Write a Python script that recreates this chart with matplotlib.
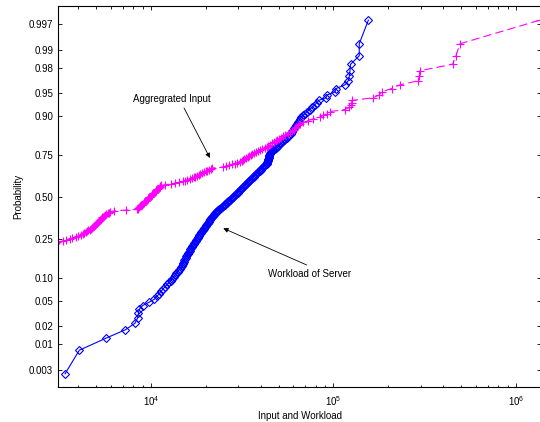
import numpy as np
import matplotlib
matplotlib.use('Agg')
import matplotlib.pyplot as plt
from matplotlib.ticker import LogLocator, NullFormatter
from statistics import NormalDist

# sorted samples (log10 of value)
server_log10 = [3.529, 3.607, 3.753, 3.859, 3.912, 3.927, 3.931, 3.936, 3.954, 3.990,
                4.019, 4.033, 4.045, 4.056, 4.067, 4.077, 4.089, 4.100, 4.109, 4.117,
                4.125, 4.132, 4.139, 4.146, 4.152, 4.159, 4.167, 4.170, 4.174, 4.177,
                4.180, 4.183, 4.187, 4.190, 4.193, 4.197, 4.201, 4.205, 4.208, 4.212,
                4.216, 4.219, 4.223, 4.227, 4.230, 4.234, 4.237, 4.241, 4.244, 4.247,
                4.251, 4.255, 4.258, 4.262, 4.265, 4.269, 4.273, 4.276, 4.280, 4.283,
                4.286, 4.290, 4.293, 4.296, 4.300, 4.303, 4.306, 4.310, 4.313, 4.316,
                4.319, 4.322, 4.326, 4.329, 4.332, 4.335, 4.339, 4.343, 4.347, 4.351,
                4.354, 4.358, 4.362, 4.366, 4.371, 4.377, 4.382, 4.387, 4.392, 4.398,
                4.403, 4.408, 4.414, 4.419, 4.424, 4.430, 4.434, 4.439, 4.443, 4.448,
                4.452, 4.456, 4.460, 4.465, 4.469, 4.474, 4.478, 4.482, 4.487, 4.491,
                4.495, 4.500, 4.504, 4.509, 4.513, 4.517, 4.522, 4.526, 4.530, 4.535,
                4.539, 4.543, 4.548, 4.552, 4.557, 4.563, 4.567, 4.572, 4.577, 4.582,
                4.586, 4.591, 4.595, 4.600, 4.604, 4.609, 4.614, 4.619, 4.623, 4.628,
                4.633, 4.635, 4.637, 4.639, 4.640, 4.642, 4.644, 4.645, 4.647, 4.649,
                4.651, 4.653, 4.659, 4.665, 4.671, 4.678, 4.684, 4.690, 4.696, 4.703,
                4.709, 4.716, 4.722, 4.729, 4.736, 4.743, 4.750, 4.757, 4.765, 4.770,
                4.775, 4.780, 4.785, 4.790, 4.795, 4.800, 4.806, 4.811, 4.817, 4.823,
                4.833, 4.845, 4.856, 4.869, 4.882, 4.896, 4.908, 4.920, 4.959, 4.966,
                5.008, 5.014, 5.063, 5.081, 5.087, 5.090, 5.094, 5.141, 5.141, 5.191]

input_log10 = [2.62, 2.81, 2.93, 3.01, 3.07, 3.11, 3.14, 3.17, 3.19, 3.21,
               3.23, 3.24, 3.26, 3.27, 3.28, 3.29, 3.30, 3.31, 3.32, 3.33,
               3.34, 3.35, 3.355, 3.36, 3.37, 3.375, 3.38, 3.385, 3.39, 3.395,
               3.40, 3.405, 3.41, 3.415, 3.42, 3.425, 3.43, 3.435, 3.44, 3.445,
               3.45, 3.455, 3.46, 3.465, 3.47, 3.475, 3.48, 3.485, 3.518, 3.536,
               3.554, 3.569, 3.587, 3.602, 3.618, 3.627, 3.635, 3.642, 3.650, 3.657,
               3.665, 3.672, 3.678, 3.683, 3.687, 3.692, 3.697, 3.702, 3.706, 3.711,
               3.716, 3.720, 3.725, 3.730, 3.734, 3.739, 3.743, 3.748, 3.755, 3.763,
               3.770, 3.778, 3.795, 3.861, 3.922, 3.927, 3.931, 3.936, 3.941, 3.946,
               3.951, 3.955, 3.960, 3.964, 3.969, 3.973, 3.977, 3.982, 3.986, 3.991,
               3.995, 3.999, 4.004, 4.008, 4.012, 4.017, 4.021, 4.025, 4.029, 4.034,
               4.038, 4.043, 4.047, 4.052, 4.056, 4.076, 4.110, 4.132, 4.154, 4.173,
               4.186, 4.199, 4.213, 4.225, 4.234, 4.243, 4.252, 4.261, 4.271, 4.280,
               4.289, 4.299, 4.308, 4.317, 4.327, 4.336, 4.395, 4.412, 4.427, 4.442,
               4.458, 4.473, 4.488, 4.496, 4.504, 4.512, 4.521, 4.529, 4.538, 4.546,
               4.554, 4.564, 4.575, 4.587, 4.598, 4.610, 4.622, 4.634, 4.643, 4.653,
               4.663, 4.673, 4.683, 4.693, 4.703, 4.714, 4.725, 4.736, 4.748, 4.760,
               4.771, 4.782, 4.790, 4.797, 4.805, 4.814, 4.835, 4.861, 4.888, 4.925,
               4.945, 4.965, 4.981, 5.063, 5.087, 5.094, 5.099, 5.103, 5.218, 5.251,
               5.264, 5.319, 5.364, 5.465, 5.470, 5.474, 5.653, 5.671, 5.693, 6.130]

ytick_probs = [0.003, 0.01, 0.02, 0.05, 0.10, 0.25, 0.50, 0.75, 0.90, 0.95, 0.98, 0.99, 0.997]
ytick_labels = ['0.003', '0.01', '0.02', '0.05', '0.10', '0.25', '0.50', '0.75',
                '0.90', '0.95', '0.98', '0.99', '0.997']

plt.rcParams['font.family'] = ['Liberation Sans', 'DejaVu Sans']
plt.rcParams['mathtext.fontset'] = 'custom'
plt.rcParams['mathtext.rm'] = 'Liberation Sans'
plt.rcParams['mathtext.it'] = 'Liberation Sans:italic'
plt.rcParams['lines.scale_dashes'] = False

nd = NormalDist()


def probit(p):
    return np.array([nd.inv_cdf(v) for v in p])


def plotpos(n):
    # normplot plotting positions (i - 0.5) / n
    return (np.arange(1, n + 1) - 0.5) / n


server = np.sort(10 ** np.array(server_log10))
agg = np.sort(10 ** np.array(input_log10))

fig = plt.figure(figsize=(5.4, 4.22), dpi=100)
ax = fig.add_axes([58 / 540, 35 / 422, 483 / 540, 381.5 / 422])

ax.plot(server, probit(plotpos(len(server))), '-', color='#0000ff', lw=0.8,
        marker='D', ms=3.6, mfc='none', mec='#0000ff', mew=0.8)
ax.plot(agg, probit(plotpos(len(agg))), '--', dashes=(6, 3), color='#ff00ff', lw=0.8,
        marker='+', ms=5.5, mew=0.8)

ax.set_xscale('log')
ax.set_xlim(10 ** 3.4904, 10 ** 6.137)
ax.set_ylim(-3.016, 3.04)
ax.set_yticks(probit(ytick_probs))
ax.set_yticklabels(ytick_labels)
ax.xaxis.set_major_locator(LogLocator(base=10))
ax.xaxis.set_minor_locator(LogLocator(base=10, subs=range(2, 10)))
ax.xaxis.set_minor_formatter(NullFormatter())

ax.tick_params(which='both', direction='in', top=True, right=True, labelsize=7, width=0.6)
ax.tick_params(which='major', length=3.2)
ax.tick_params(which='minor', length=1.8)
ax.tick_params(axis='x', pad=5)
for s in ax.spines.values():
    s.set_linewidth(0.8)

ax.set_xlabel('Input and Workload', fontsize=7, labelpad=2)
ax.set_ylabel('Probability', fontsize=7, labelpad=4)

ax.text(10 ** 3.901, 1.556, 'Aggregrated Input', fontsize=7, va='center')
ax.annotate('', xy=(10 ** 4.323, 0.619), xytext=(10 ** 4.181, 1.413),
            arrowprops=dict(arrowstyle='-|>', color='k', lw=0.6, mutation_scale=7,
                            shrinkA=0, shrinkB=0))
ax.text(10 ** 4.641, -1.222, 'Workload of Server', fontsize=7, va='center')
ax.annotate('', xy=(10 ** 4.396, -0.497), xytext=(10 ** 4.853, -1.079),
            arrowprops=dict(arrowstyle='-|>', color='k', lw=0.6, mutation_scale=7,
                            shrinkA=0, shrinkB=0))

fig.savefig('out.png', dpi=100)
